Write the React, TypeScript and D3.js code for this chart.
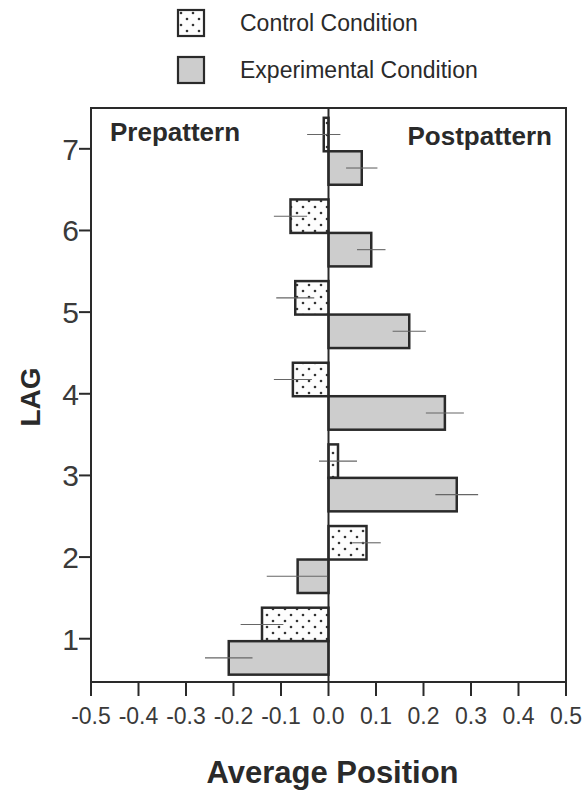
import React from 'react';
import * as d3 from 'd3';

const lags = [1, 2, 3, 4, 5, 6, 7];
const controlMeans = [-0.14, 0.08, 0.02, -0.075, -0.07, -0.08, -0.01];
const controlErrors = [0.045, 0.03, 0.04, 0.04, 0.04, 0.035, 0.035];
const experimentalMeans = [-0.21, -0.065, 0.27, 0.245, 0.17, 0.09, 0.07];
const experimentalErrors = [0.05, 0.065, 0.045, 0.04, 0.035, 0.03, 0.033];
const xTicks = [-0.5, -0.4, -0.3, -0.2, -0.1, 0.0, 0.1, 0.2, 0.3, 0.4, 0.5];
const legendLabels = ['Control Condition', 'Experimental Condition'];

const FONT = '"Liberation Sans", Arial, Helvetica, sans-serif';
const INK = '#2a2a2a';

export default function App() {
  const width = 583;
  const height = 794;

  const x = d3.scaleLinear().domain([-0.5, 0.5]).range([91, 566]);
  const y = d3.scaleLinear().domain([0.47, 7.5]).range([682, 108]);

  const split = -0.03; // where the control/experimental pair meets, relative to the tick
  const barH = 0.41;

  const bars = lags.flatMap((lag, i) => [
    { lag, kind: 'control', value: controlMeans[i], err: controlErrors[i], y0: lag + split + barH, y1: lag + split },
    { lag, kind: 'experimental', value: experimentalMeans[i], err: experimentalErrors[i], y0: lag + split, y1: lag + split - barH },
  ]);

  const fillFor = (kind: string) => (kind === 'control' ? 'url(#dots)' : '#cdcdcd');
  const fmt = (t: number) => d3.format('.1f')(t).replace('\u2212', '-');

  const [xl, xr] = x.range();
  const [yb, yt] = y.range();

  return (
    <svg width={width} height={height} style={{ position: 'absolute', left: 0, top: 0, background: '#fff' }}
      fontFamily={FONT}>
      <defs>
        <pattern id="dots" width="12" height="12" patternUnits="userSpaceOnUse">
          <rect width="12" height="12" fill="#fdfdfd" />
          <circle cx="3" cy="3" r="1.3" fill="#333" />
          <circle cx="9" cy="9" r="1.3" fill="#333" />
        </pattern>
      </defs>

      {/* legend */}
      {legendLabels.map((label, i) => (
        <g key={label} transform={`translate(178,${10 + i * 47})`}>
          <rect width="26" height="26" fill={i === 0 ? 'url(#dots)' : '#cdcdcd'} stroke={INK} strokeWidth="2.2" />
          <text x="62" y="21" fontSize="23" fill={INK}>{label}</text>
        </g>
      ))}

      {/* frame */}
      <rect x={xl} y={yt} width={xr - xl} height={yb - yt} fill="none" stroke={INK} strokeWidth="2" />

      {/* bars */}
      {bars.map((d) => {
        const x0 = x(Math.min(0, d.value));
        const x1 = x(Math.max(0, d.value));
        const top = y(d.y0);
        const bot = y(d.y1);
        const cy = (top + bot) / 2;
        return (
          <g key={`${d.kind}-${d.lag}`}>
            <rect x={x0} y={top} width={x1 - x0} height={bot - top} fill={fillFor(d.kind)} stroke={INK} strokeWidth="2.5" />
            <line x1={x(d.value - d.err)} x2={x(d.value + d.err)} y1={cy} y2={cy} stroke="#666" strokeWidth="1.1" />
          </g>
        );
      })}

      {/* zero line */}
      <line x1={x(0)} x2={x(0)} y1={yt} y2={yb} stroke={INK} strokeWidth="2" />

      {/* y axis ticks */}
      {lags.map((lag) => (
        <g key={`yt-${lag}`}>
          <line x1={xl - 12} x2={xl} y1={y(lag)} y2={y(lag)} stroke={INK} strokeWidth="2" />
          <text x={xl - 12} y={y(lag)} dy="0.36em" textAnchor="end" fontSize="30" fill="#3a3a3a">{lag}</text>
        </g>
      ))}

      {/* x axis ticks */}
      {xTicks.map((t) => (
        <g key={`xt-${t}`}>
          <line x1={x(t)} x2={x(t)} y1={yb} y2={yb + 14} stroke={INK} strokeWidth="2" />
          <text x={x(t)} y={yb + 42} textAnchor="middle" fontSize="23" fill="#3a3a3a">{fmt(t)}</text>
        </g>
      ))}

      {/* panel labels */}
      <text x={xl + 19} y={yt + 33} fontSize="26" fontWeight="bold" fill={INK}>Prepattern</text>
      <text x={xr - 14} y={yt + 37} fontSize="26" fontWeight="bold" fill={INK} textAnchor="end">Postpattern</text>

      {/* axis titles */}
      <text transform={`translate(40,${(yt + yb) / 2 + 2}) rotate(-90)`} textAnchor="middle" fontSize="28" fontWeight="bold" fill={INK}>LAG</text>
      <text x={x(0) + 4} y={783} textAnchor="middle" fontSize="31" fontWeight="bold" fill={INK}>Average Position</text>
    </svg>
  );
}
